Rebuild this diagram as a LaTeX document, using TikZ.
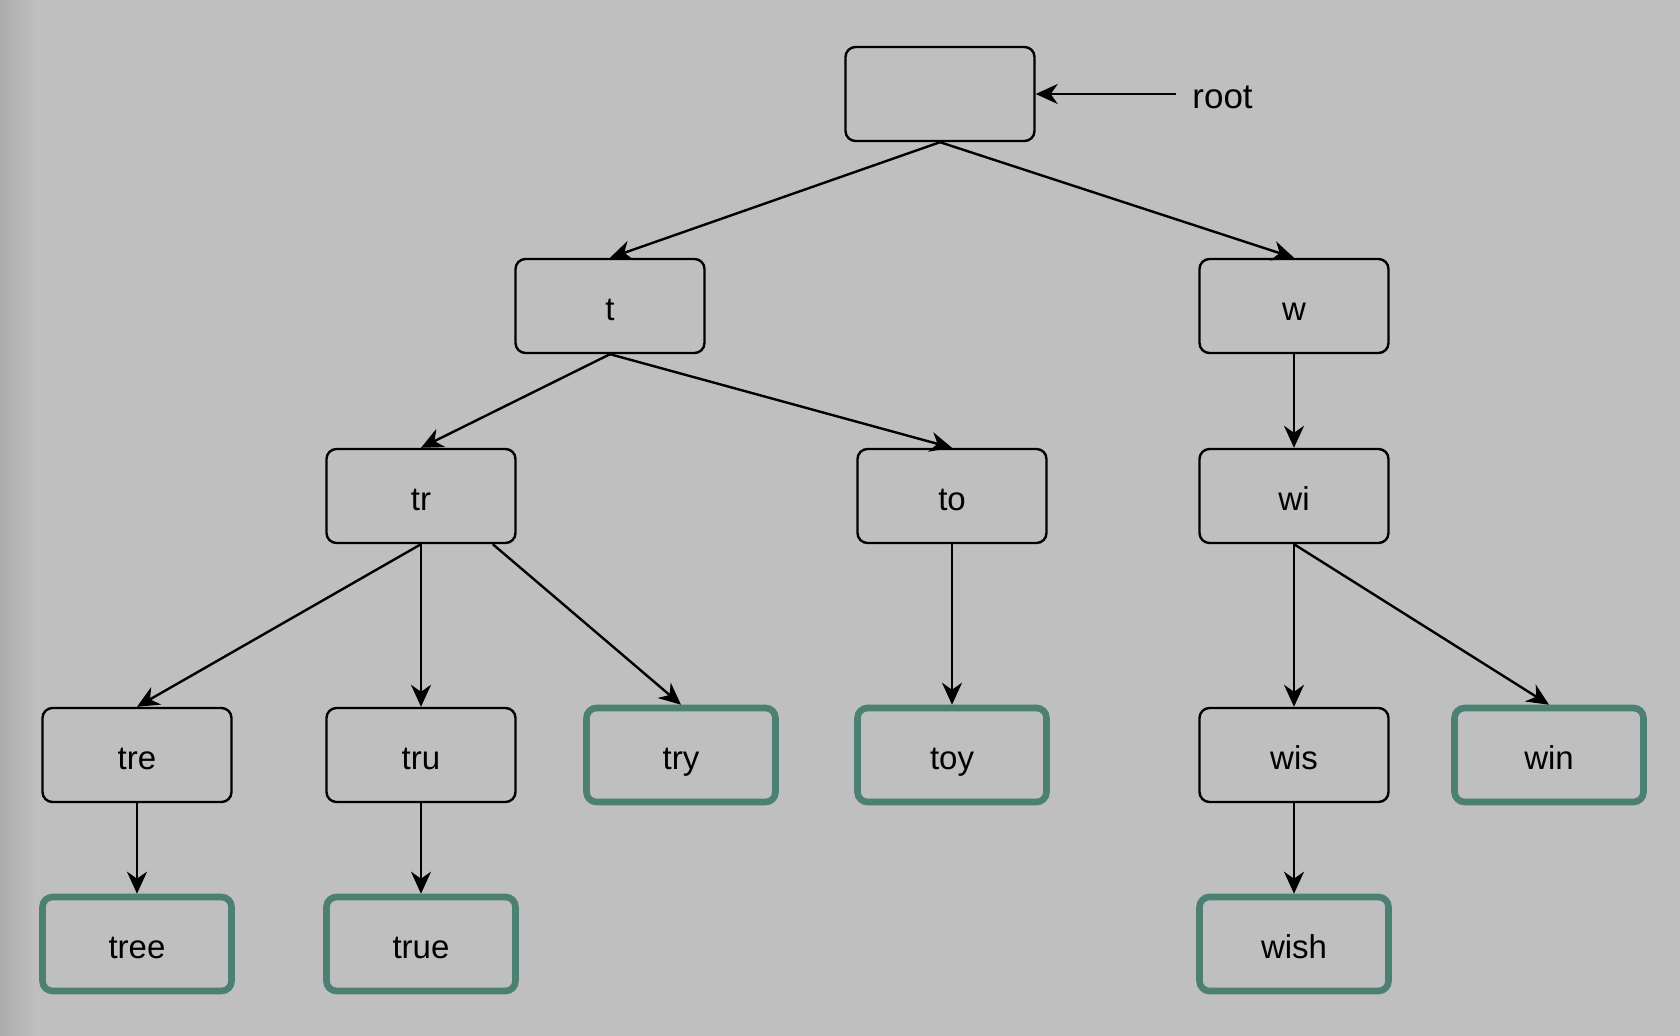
\documentclass[tikz,border=0pt]{standalone}
\usepackage{fontspec}
\setmainfont{Liberation Sans}
\usetikzlibrary{arrows.meta,calc}
\definecolor{bggray}{RGB}{191,191,191}
\definecolor{edgegray}{RGB}{172,172,172}
\definecolor{leafgreen}{RGB}{76,128,114}
\tikzset{
  trienode/.style={draw=black,line width=1.2pt,rounded corners=5pt,
    minimum width=94.5pt,minimum height=47pt,inner sep=0pt,
    text height=15pt,text depth=0.5pt,font=\fontsize{16.5}{19}\selectfont},
  wordnode/.style={trienode,draw=leafgreen,line width=3.3pt},
  link/.style={line width=1.2pt,-{Stealth[length=11pt,width=10pt,inset=3.5pt]}}
}

\begin{document}
\begin{tikzpicture}[x=0.5pt,y=-0.5pt]
    \fill[bggray] (0,0) rectangle (1680,1036);
    \shade[left color=edgegray,right color=bggray] (0,0) rectangle (36,1036);
    \useasboundingbox (0,0) rectangle (1680,1036);
    % levels of the trie
    \node[trienode] (root) at (940,94) {};
    \node[trienode] (t) at (610,306) {t};
    \node[trienode] (w) at (1294,306) {w};
    \node[trienode] (tr) at (421,496) {tr};
    \node[trienode] (to) at (952,496) {to};
    \node[trienode] (wi) at (1294,496) {wi};
    \node[trienode] (tre) at (137,755) {tre};
    \node[trienode] (tru) at (421,755) {tru};
    \node[wordnode] (try) at (681,755) {try};
    \node[wordnode] (toy) at (952,755) {toy};
    \node[trienode] (wis) at (1294,755) {wis};
    \node[wordnode] (win) at (1549,755) {win};
    \node[wordnode] (tree) at (137,944) {tree};
    \node[wordnode] (true) at (421,944) {true};
    \node[wordnode] (wish) at (1294,944) {wish};
    \node[anchor=west,inner sep=8pt,text height=15pt,text depth=0.5pt,
      font=\fontsize{17.5}{20}\selectfont] (rootlabel) at (1176,94) {root};
    \draw[link] (rootlabel.west) -- (root.east);
    % edges
    \draw[link] (root.south) -- (t.north);
    \draw[link] (root.south) -- (w.north);
    \draw[link] (t.south) -- (tr.north);
    \draw[link] (t.south) -- (to.north);
    \draw[link] (w.south) -- (wi.north);
    \draw[link] (tr.south) -- (tre.north);
    \draw[link] (tr.south) -- (tru.north);
    \draw[link] ($(tr.south east)!0.25!(tr.south)$) -- (try.north);
    \draw[link] (to.south) -- (toy.north);
    \draw[link] (wi.south) -- (wis.north);
    \draw[link] (wi.south) -- (win.north);
    \draw[link] (tre.south) -- (tree.north);
    \draw[link] (tru.south) -- (true.north);
    \draw[link] (wis.south) -- (wish.north);
\end{tikzpicture}
\end{document}
